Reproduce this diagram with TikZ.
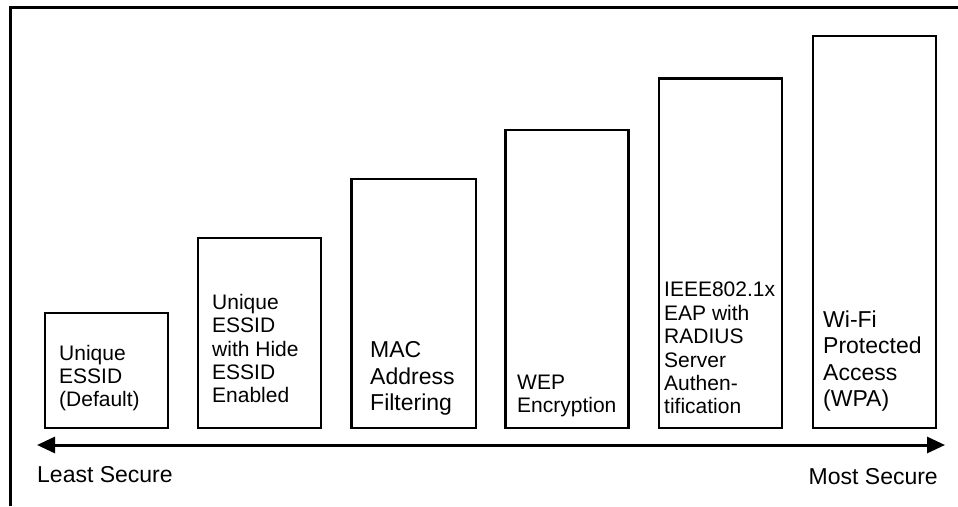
\documentclass[tikz,border=0pt]{standalone}
\usepackage{fontspec}
\setmainfont{Liberation Sans}
\usetikzlibrary{arrows.meta}
\begin{document}
\begin{tikzpicture}[x=1pt,y=-1pt,
  box/.style={draw, line width=2.6pt, inner sep=0pt, minimum width=123pt, anchor=north west},
  lbl/.style={anchor=south west, inner sep=0pt, text depth=0pt, align=left},
  fa/.style={font=\fontsize{21}{23.4}\selectfont},
  fb/.style={font=\fontsize{23}{26.5}\selectfont},
  fc/.style={font=\fontsize{23}{27}\selectfont},
  bigtip/.tip={Triangle[length=18pt,width=16pt]}
]
\useasboundingbox (0,0) rectangle (958,506);
\fill[white] (0,0) rectangle (958,506);
\draw[line width=3pt] (10.5,506) -- (10.5,7.5) -- (958,7.5);

\node[box, minimum height=115pt]   (b1) at (43.5,311.5) {};
\node[box, minimum height=190pt]   (b2) at (196.5,236.5) {};
\node[box, minimum width=124.5pt, minimum height=249pt] (b3) at (350,177.5) {};
\node[box, minimum height=298pt]   (b4) at (504,128.5) {};
\node[box, minimum height=349.5pt] (b5) at (657.5,77) {};
\node[box, minimum height=392pt]   (b6) at (811.5,34.5) {};

\node[lbl, fa] (t1) at (59,407) {Unique\\ESSID\\(Default)};
\node[lbl, fa] (t2) at (212,403) {Unique\\ESSID\\with Hide\\ESSID\\Enabled};
\node[lbl, fb] (t3) at (370,411) {MAC\\Address\\Filtering};
\node[lbl, fa] (t4) at (517,413) {WEP\\Encryption};
\node[lbl, fa] (t5) at (664,414) {IEEE802.1x\\EAP with\\RADIUS\\Server\\Authen-\\tification};
\node[lbl, fb] (t6) at (823,407) {Wi-Fi\\Protected\\Access\\(WPA)};

\coordinate (L) at (37,445);
\coordinate (R) at (945,445);
\draw[line width=3pt, bigtip-bigtip] (L) -- (R);

\node[lbl, fc] (least) at (37,483) {Least Secure};
\node[lbl, fc, anchor=south east] (most) at (938,485) {Most Secure};
\end{tikzpicture}
\end{document}
